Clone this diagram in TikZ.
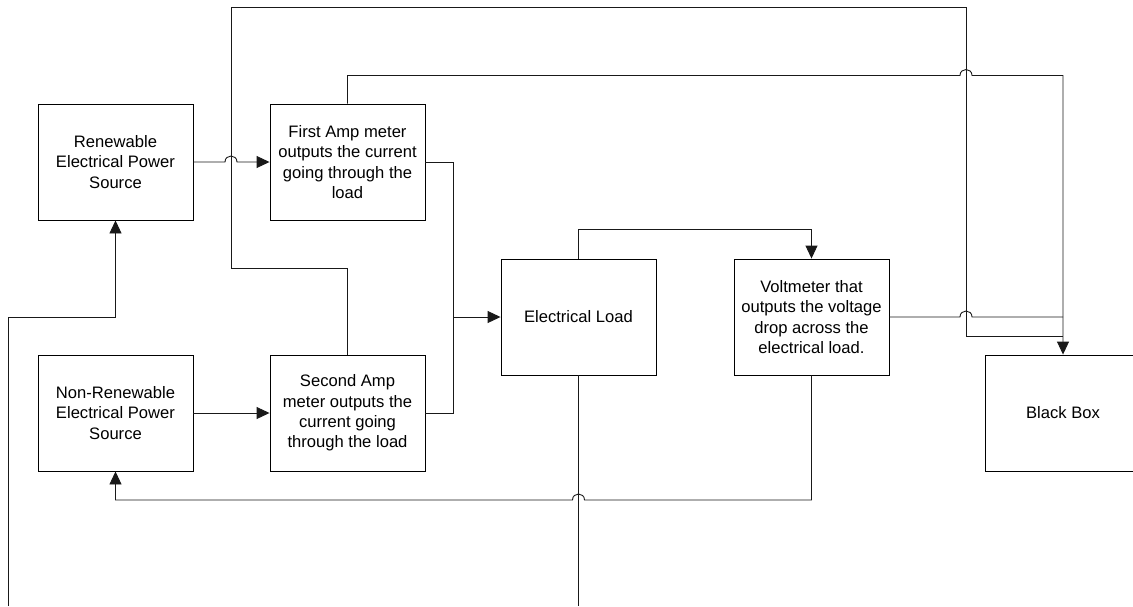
\documentclass[tikz,border=0pt]{standalone}
\usepackage{fontspec}
\setmainfont{Liberation Sans}
\usetikzlibrary{arrows.meta}
\begin{document}
\begin{tikzpicture}[x=1pt,y=-1pt,
  blk/.style={draw=black, line width=0.9pt, minimum width=155pt, minimum height=116pt,
    inner sep=0pt, align=center, font=\fontsize{16.6}{20.3}\selectfont},
  wire/.style={draw=black!90, line width=0.9pt},
  arr/.style={wire, -{Triangle[length=13pt,width=12pt]}}]
\useasboundingbox (0,0) rectangle (1133,606);
\node[blk] (ren)  at (115.5,162) {Renewable\\Electrical Power\\Source};
\node[blk] (amp1) at (347.5,162) {First Amp meter\\outputs the current\\going through the\\load};
\node[blk] (non)  at (115.5,413) {Non-Renewable\\Electrical Power\\Source};
\node[blk] (amp2) at (347.5,413) {Second Amp\\meter outputs the\\current going\\through the load};
\node[blk] (load) at (578.5,317) {Electrical Load};
\node[blk] (volt) at (811.5,317) {Voltmeter that\\outputs the voltage\\drop across the\\electrical load.};
\node[blk] (bb)   at (1063,413) {Black Box};
\coordinate (bus) at (453,317);
\coordinate (lft) at (8,606);
\coordinate (ldend) at (578.5,606);
% renewable -> first amp with hop
\draw[arr] (ren.east) -- (225,162) .. controls (225,154) and (237,154) .. (237,162) -- (amp1.west);
% non-renewable -> second amp
\draw[arr] (non.east) -- (amp2.west);
% amp meters -> bus -> load
\draw[wire] (amp1.east) -- (453,162) -- (453,413) -- (amp2.east);
\draw[arr] (bus) -- (load.west);
% load -> voltmeter
\draw[arr] (load.north) -- (578.5,229) -| (volt.north);
% load bottom line
\draw[wire] (load.south) -- (ldend);
% left feed to renewable
\draw[arr] (lft) -- (8,317) -| (ren.south);
% voltmeter -> non-renewable with hop
\draw[arr] (volt.south) -- (811.5,500) -- (584.5,500) .. controls (584.5,492) and (572.5,492) .. (572.5,500) -- (115.5,500) -- (non.south);
% first amp -> black box with hop
\draw[arr] (amp1.north) -- (347.5,75.5) -- (960,75.5) .. controls (960,67.5) and (972,67.5) .. (972,75.5) -- (1063,75.5) -- (bb.north);
% voltmeter -> black box with hop
\draw[wire] (volt.east) -- (960,317) .. controls (960,309) and (972,309) .. (972,317) -- (1063,317);
% second amp -> black box
\draw[wire] (amp2.north) -- (347.5,268) -- (231,268) -- (231,7.5) -- (966,7.5) -- (966,336) -- (1063,336);
\end{tikzpicture}
\end{document}
